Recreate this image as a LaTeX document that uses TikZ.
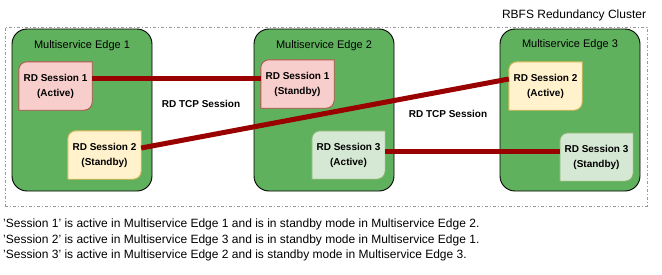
\documentclass[tikz,border=0pt]{standalone}
\usepackage{fontspec}
\setmainfont{Liberation Sans}
\pgfdeclarelayer{bg}
\pgfdeclarelayer{mid}
\pgfsetlayers{bg,mid,main}
\definecolor{msegreen}{HTML}{60B15E}
\definecolor{tcpred}{HTML}{990000}
\definecolor{redfill}{HTML}{F8CECC}
\definecolor{redline}{HTML}{B85450}
\definecolor{yelfill}{HTML}{FFF2CC}
\definecolor{yelline}{HTML}{D6B656}
\definecolor{grnfill}{HTML}{D5E8D4}
\definecolor{grnline}{HTML}{82B366}
\newcommand{\sessshape}[3]{%
  \begin{pgfonlayer}{mid}
    \filldraw[fill=#2,draw=#3,line width=0.9pt] (#1.south west) -- ([yshift=-8pt]#1.north west)
      arc[start angle=180,end angle=90,radius=8pt] -- (#1.north east)
      -- ([yshift=8pt]#1.south east) arc[start angle=0,end angle=-90,radius=8pt] -- cycle;
  \end{pgfonlayer}}
\tikzset{
  msebox/.style={draw=black,line width=0.9pt,fill=msegreen,rounded corners=15pt,
    minimum width=140pt,minimum height=162pt},
  msetitle/.style={font=\fontsize{11}{13}\selectfont,inner sep=0pt},
  sessbox/.style={minimum width=73pt,minimum height=48pt,inner sep=0pt,align=center,
    font=\fontsize{10}{15}\selectfont\bfseries},
  tcpline/.style={tcpred,line width=5pt},
  tcplabel/.style={font=\fontsize{10}{12}\selectfont\bfseries,inner sep=0pt},
  notetext/.style={font=\fontsize{12}{14}\selectfont,inner sep=0pt,anchor=base west}
}
\begin{document}
\begin{tikzpicture}[x=1pt,y=-1pt]
  \useasboundingbox (0,0) rectangle (662,274);

  \node[draw=gray!80,line width=0.6pt,dash pattern=on 3pt off 2pt on 1pt off 2pt,
    minimum width=642pt,minimum height=179pt,inner sep=0pt] (cluster) at (326,116.5) {};
  \node[anchor=base east,font=\fontsize{12}{14}\selectfont,inner sep=0pt]
    (clusterlbl) at ([xshift=-1pt,yshift=8pt]cluster.north east) {RBFS Redundancy Cluster};

  \begin{pgfonlayer}{bg}
    \node[msebox] (mse1) at (82,110) {};
    \node[msebox] (mse2) at (324,110) {};
    \node[msebox] (mse3) at (570,110) {};
  \end{pgfonlayer}
  \node[msetitle] (t1) at ([yshift=-17pt]mse1.north) {Multiservice Edge 1};
  \node[msetitle] (t2) at ([yshift=-17pt]mse2.north) {Multiservice Edge 2};
  \node[msetitle] (t3) at ([yshift=-16pt]mse3.north) {Multiservice Edge 3};

  \node[sessbox] (s1a) at (55.5,86) {RD Session 1\\(Active)};
  \node[sessbox] (s2s) at (104.5,155) {RD Session 2\\(Standby)};
  \node[sessbox] (s1s) at (297.5,84) {RD Session 1\\(Standby)};
  \node[sessbox] (s3a) at (348.5,155) {RD Session 3\\(Active)};
  \node[sessbox] (s2a) at (545.5,86) {RD Session 2\\(Active)};
  \node[sessbox] (s3s) at (596.5,157) {RD Session 3\\(Standby)};
  \sessshape{s1a}{redfill}{redline}
  \sessshape{s1s}{redfill}{redline}
  \sessshape{s2s}{yelfill}{yelline}
  \sessshape{s2a}{yelfill}{yelline}
  \sessshape{s3a}{grnfill}{grnline}
  \sessshape{s3s}{grnfill}{grnline}

  \draw[tcpline] ([yshift=8pt]s1a.east) coordinate (l1) -- (l1 -| s1s.west);
  \draw[tcpline] ([yshift=7pt]s2s.east) -- ([yshift=7pt]s2a.west);
  \draw[tcpline] ([yshift=4pt]s3a.east) coordinate (l3) -- (l3 -| s3s.west);

  \node[tcplabel] (tcp1) at (201,104) {RD TCP Session};
  \node[tcplabel] (tcp2) at (448,114) {RD TCP Session};

  \node[notetext] (note1) at (3,227) {'Session 1' is active in Multiservice Edge 1 and is in standby mode in Multiservice Edge 2.};
  \node[notetext] (note2) at (3,243) {'Session 2' is active in Multiservice Edge 3 and is in standby mode in Multiservice Edge 1.};
  \node[notetext] (note3) at (3,258) {'Session 3' is active in Multiservice Edge 2 and is standby mode in Multiservice Edge 3.};
\end{tikzpicture}
\end{document}
